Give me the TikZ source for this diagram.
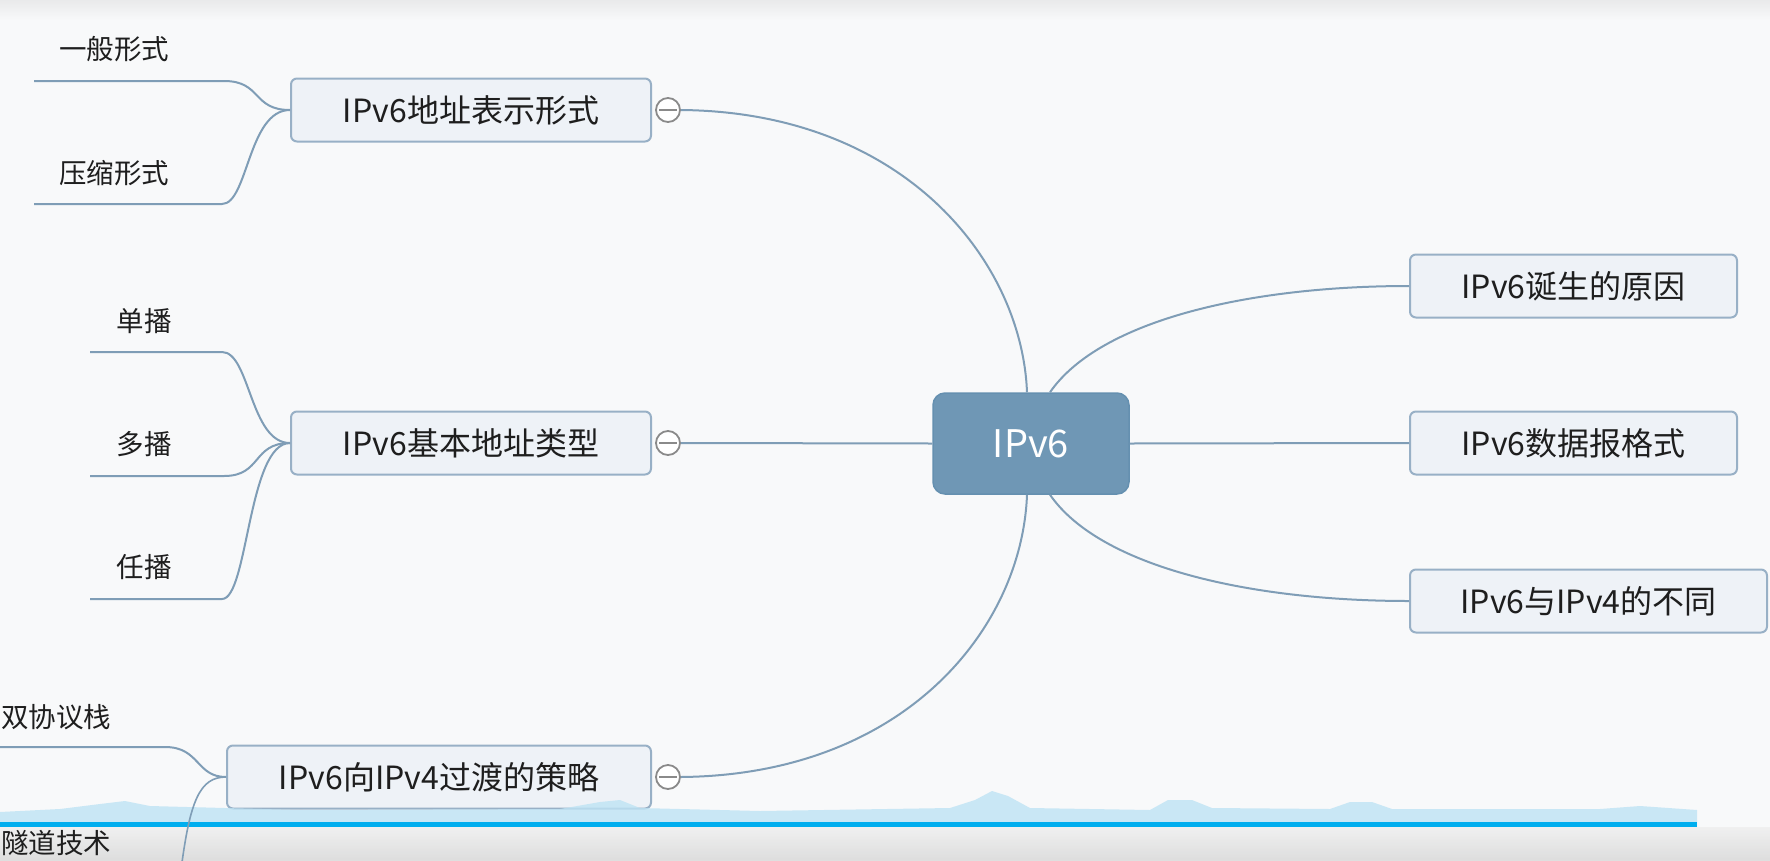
\documentclass[tikz,border=0pt]{standalone}
\usepackage{fontspec}
\setmainfont{Noto Sans CJK SC}
\definecolor{bgc}{HTML}{F8F9FA}
\definecolor{topc}{HTML}{E9EAEB}
\definecolor{boxfill}{HTML}{EEF2F7}
\definecolor{boxline}{HTML}{98B0C6}
\definecolor{conn}{HTML}{7F9DB6}
\definecolor{centerfill}{HTML}{6F97B5}
\definecolor{centerline}{HTML}{6590B0}
\definecolor{txt}{HTML}{1E1E1E}
\definecolor{wave}{HTML}{BEE3F4}
\definecolor{bluebar}{HTML}{00AEEF}
\definecolor{barA}{HTML}{EFEFEF}
\definecolor{barB}{HTML}{D9D9D9}
\definecolor{knob}{HTML}{8A8A8A}
\begin{document}
\begin{tikzpicture}[x=1pt,y=-1pt,
  topicbox/.style={draw=boxline, line width=2pt, fill=boxfill, rounded corners=6pt,
    minimum height=63pt, inner sep=0pt, text=txt, font=\fontsize{32}{38}\selectfont},
  centerbox/.style={draw=centerline, line width=1.5pt, fill=centerfill, rounded corners=12pt,
    minimum width=196pt, minimum height=101pt, text=white, font=\fontsize{38}{44}\selectfont},
  leaf/.style={text=txt, font=\fontsize{27.5}{32}\selectfont, inner sep=0pt},
  link/.style={draw=conn, line width=2pt},
  knobc/.style={circle, draw=knob, line width=1.8pt, fill=white, minimum size=24pt, inner sep=0pt}
]
\useasboundingbox (0,0) rectangle (1770,860);
\clip (0,0) rectangle (1770,860);
\fill[bgc] (0,0) rectangle (1770,860);
\shade[top color=topc, bottom color=bgc] (0,0) rectangle (1770,20);

% central node
\node[centerbox] (c) at (1031,443.5) {IPv6};

% left topics
\node[topicbox, minimum width=360pt] (n1) at (471,110) {IPv6地址表示形式};
\node[topicbox, minimum width=360pt] (n2) at (471,443) {IPv6基本地址类型};
\node[topicbox, minimum width=424pt] (n3) at (439,777) {IPv6向IPv4过渡的策略};

% right topics
\node[topicbox, minimum width=327pt] (r1) at (1573.5,286) {IPv6诞生的原因};
\node[topicbox, minimum width=327pt] (r2) at (1573.5,443) {IPv6数据报格式};
\node[topicbox, minimum width=357pt] (r3) at (1588.5,601) {IPv6与IPv4的不同};

% collapse knobs
\node[knobc] (k1) at (668,110) {};
\node[knobc] (k2) at (668,443) {};
\node[knobc] (k3) at (668,777) {};
\foreach \k in {k1,k2,k3}{
  \draw[knob, line width=1.5pt] ([xshift=4pt]\k.west) -- ([xshift=-4pt]\k.east);
}

% connectors from center
\draw[link] (k1.east) .. controls (905,112) and (1022,262) .. ([xshift=-4pt]c.north);
\draw[link] (k2.east) -- (c.west);
\draw[link] (k3.east) .. controls (905,775) and (1022,628) .. ([xshift=-4pt]c.south);
\draw[link] ([xshift=19pt]c.north) .. controls (1100,320) and (1250,286) .. (r1.west);
\draw[link] (c.east) -- (r2.west);
\draw[link] ([xshift=19pt]c.south) .. controls (1100,567) and (1250,601) .. (r3.west);

% leaves of n1
\node[leaf] (a1) at (114,49) {一般形式};
\node[leaf] (a2) at (114,173) {压缩形式};
\coordinate (a1s) at (34,81);
\coordinate (a2s) at (34,204);
\draw[link] (a1s) -- (224,81) .. controls (262,81) and (252,110) .. (n1.west);
\draw[link] (a2s) -- (222,204) .. controls (248,204) and (248,110) .. (n1.west);

% leaves of n2
\node[leaf] (b1) at (144,321) {单播};
\node[leaf] (b2) at (144,444) {多播};
\node[leaf] (b3) at (144,567) {任播};
\coordinate (b1s) at (90,352);
\coordinate (b2s) at (90,476);
\coordinate (b3s) at (90,599);
\draw[link] (b1s) -- (222,352) .. controls (250,352) and (250,443) .. (n2.west);
\draw[link] (b2s) -- (224,476) .. controls (262,476) and (252,443) .. (n2.west);
\draw[link] (b3s) -- (222,599) .. controls (248,599) and (248,443) .. (n2.west);

% leaves of n3
\node[leaf, anchor=west] (d1) at (1,717) {双协议栈};
\coordinate (d1s) at (0,747);
\draw[link] (d1s) -- (165,747) .. controls (200,747) and (196,777) .. (n3.west);

% overlays: waveform band, progress line, player bar
\fill[wave, opacity=0.8] (0,826) -- (0,812) -- (60,809) -- (100,804) -- (125,801) -- (150,806)
  -- (300,810) -- (560,809) -- (600,802) -- (620,800) -- (640,808) -- (760,811) -- (950,808)
  -- (975,800) -- (992,791) -- (1008,796) -- (1030,808) -- (1150,810) -- (1168,800)
  -- (1192,800) -- (1212,808) -- (1330,809) -- (1350,802) -- (1372,802) -- (1392,809)
  -- (1600,809) -- (1640,806) -- (1697,810) -- (1697,826) -- cycle;
\fill[bluebar] (0,822) rectangle (1697,827);
\shade[top color=barA, bottom color=barB, opacity=0.85] (0,827) rectangle (1770,860);

\node[leaf, anchor=west] (d2) at (1,843) {隧道技术};
\draw[link, line width=1.6pt] (n3.west) .. controls (200,777) and (190,800) .. (181,870);
\end{tikzpicture}
\end{document}
